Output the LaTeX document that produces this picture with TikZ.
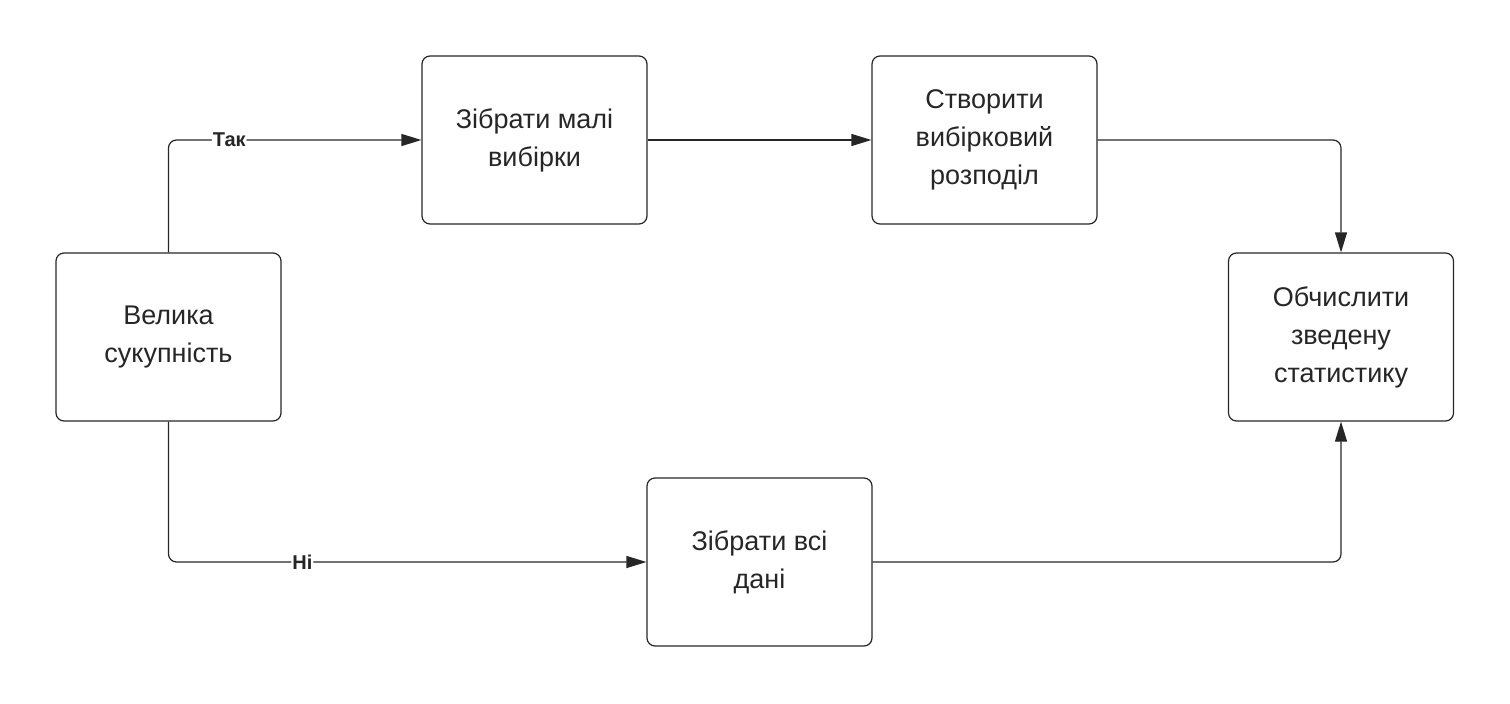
\documentclass[tikz,border=0pt]{standalone}
\usepackage{fontspec}
\setmainfont{Liberation Sans}
\usetikzlibrary{arrows.meta}
\begin{document}
\begin{tikzpicture}[x=1pt,y=-1pt,
  box/.style={draw=black!85,line width=1.2pt,rounded corners=8pt,minimum width=225pt,minimum height=168pt,align=center,font=\fontsize{27}{38}\selectfont,text=black!85},
  conn/.style={draw=black!85,line width=1.2pt,-{Triangle[length=20pt,width=12pt]}},
  lab/.style={fill=white,font=\bfseries\fontsize{20}{24}\selectfont,text=black!85,inner sep=1pt}]
\useasboundingbox (0,0) rectangle (1510,704);
\node[box] (a) at (168.5,337) {Велика\\сукупність};
\node[box] (b) at (534.5,140) {Зібрати малі\\вибірки};
\node[box] (c) at (984.5,140) {Створити\\вибірковий\\розподіл};
\node[box] (d) at (1341,337) {Обчислити\\зведену\\статистику};
\node[box] (e) at (759.5,562) {Зібрати всі\\дані};
\draw[conn,rounded corners=8pt] (a.north) |- (b.west) node[lab,pos=0.62] {Так};
\draw[conn,rounded corners=8pt] (a.south) |- (e.west) node[lab,pos=0.64] {Ні};
\draw[conn] (b) -- (c);
\draw[conn,rounded corners=8pt] (c.east) -| (d.north);
\draw[conn,rounded corners=8pt] (e.east) -| (d.south);
\end{tikzpicture}
\end{document}
